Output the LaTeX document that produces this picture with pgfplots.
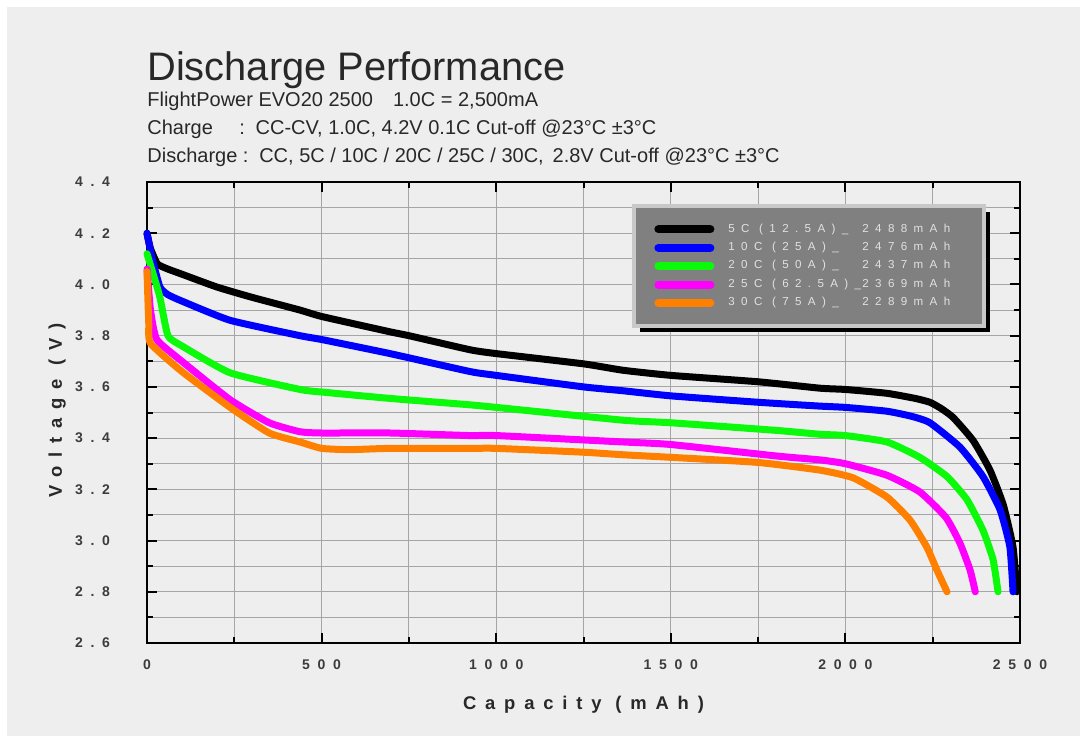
\documentclass[border=0pt]{standalone}
\usepackage{pgfplots}
\pgfplotsset{compat=1.18}
\usepackage{fontspec}
\setmainfont{Liberation Sans}
\newfontfamily\spaced[LetterSpace=55]{Liberation Sans}
\newfontfamily\spacedlab[LetterSpace=48]{Liberation Sans}
\usetikzlibrary{shadows}

% keep the legend box shadow off the legend line samples
\makeatletter
\tikzset{no preaction/.code={\let\tikz@preactions\pgfutil@empty}}
\makeatother

\definecolor{bg}{RGB}{238,238,238}
\definecolor{gridc}{RGB}{165,165,165}
\definecolor{txt}{RGB}{40,40,40}
\definecolor{tickc}{RGB}{60,60,60}
\definecolor{legbg}{RGB}{128,128,128}
\definecolor{legedge}{RGB}{200,200,200}
\definecolor{legtxt}{RGB}{225,225,225}
\definecolor{cblue}{RGB}{0,0,255}
\definecolor{cgreen}{RGB}{10,250,10}
\definecolor{cmag}{RGB}{255,0,255}
\definecolor{corange}{RGB}{255,128,0}

\newcommand{\tickfont}{\spaced\bfseries\fontsize{7}{8}\selectfont}
\newcommand{\labfont}{\spacedlab\bfseries\fontsize{9.2}{11}\selectfont}
\newcommand{\legfont}{\spaced\fontsize{5.8}{6.5}\selectfont}
\newcommand{\leg}[2]{\makebox[67pt][l]{#1}#2\hspace{14pt}}

\begin{document}
\begin{tikzpicture}
% page background (1px = 0.5pt, axis box origin at px 147,643)
\fill[white] (-73.5pt,-46.5pt) rectangle (466.5pt,321.5pt);
\fill[bg] (-70pt,-46.5pt) rectangle (466.5pt,318pt);

\node[anchor=base west, font=\fontsize{19.9}{23}\selectfont, text=txt, inner sep=0pt] at (0pt,281.5pt) {Discharge Performance};
\node[anchor=base west, font=\fontsize{10}{12}\selectfont, text=txt, inner sep=0pt] at (0pt,268.5pt) {FlightPower EVO20 2500\hspace{10pt}1.0C = 2,500mA};
\node[anchor=base west, font=\fontsize{10}{12}\selectfont, text=txt, inner sep=0pt] at (0pt,254.5pt) {\makebox[46pt][l]{Charge}: \,CC-CV, 1.0C, 4.2V 0.1C Cut-off @23°C ±3°C};
\node[anchor=base west, font=\fontsize{10}{12}\selectfont, text=txt, inner sep=0pt] at (0pt,240.5pt) {Discharge : \,CC, 5C / 10C / 20C / 25C / 30C, \,2.8V Cut-off @23°C ±3°C};

\begin{axis}[
  scale only axis,
  width=436.5pt, height=230.5pt,
  xmin=0, xmax=2500, ymin=2.6, ymax=4.4,
  clip=false,
  axis line style={black, line width=1.2pt},
  xtick={0,500,1000,1500,2000,2500},
  xticklabels={0,500,1000,1500,2000,2500},
  minor xtick={250,750,1250,1750,2250},
  ytick={2.6,2.8,3.0,3.2,3.4,3.6,3.8,4.0,4.2,4.4},
  yticklabels={2.6,2.8,3.0,3.2,3.4,3.6,3.8,4.0,4.2,4.4},
  minor ytick={2.7,2.9,3.1,3.3,3.5,3.7,3.9,4.1,4.3},
  grid=both,
  major grid style={gridc, line width=0.5pt},
  minor grid style={gridc, line width=0.5pt},
  tick align=inside,
  major tick length=5pt, minor tick length=3pt,
  tick style={black, line width=1pt},
  xticklabel style={font=\tickfont, text=tickc, yshift=-5pt},
  yticklabel style={font=\tickfont, text=tickc, xshift=-15pt},
  xlabel={Capacity (mAh)},
  ylabel={Voltage (V)},
  xlabel style={font=\labfont, text=txt, at={(axis description cs:0.5,0)}, anchor=center, yshift=-31pt},
  ylabel style={font=\labfont, text=txt, at={(axis description cs:-0.103,0.505)}, anchor=center},
  every axis plot/.append style={line width=3.5pt, line join=round, line cap=round, smooth, tension=0.3},
  legend style={at={(0.556,0.952)}, anchor=north west, fill=legbg, draw=legedge, line width=2pt,
    drop shadow={shadow xshift=2.8pt, shadow yshift=-2.8pt, fill=black, opacity=1},
    inner xsep=10pt, inner ysep=9pt, row sep=4pt, font=\legfont, text=legtxt,
    nodes={text height=4pt, text depth=1.2pt, inner ysep=0pt, inner xsep=7pt}},
  legend cell align=left,
  legend image code/.code={\draw[no preaction, #1, line width=4pt, line cap=round, sharp plot] (2pt,0pt) -- (28pt,0pt);},
]
\addplot[black] coordinates {
(0,4.20) (10,4.14) (30,4.08) (60,4.06) (100,4.04) (200,3.99) (300,3.95) (438,3.90)
(500,3.875) (696,3.815) (750,3.80) (925,3.745) (1000,3.73) (1250,3.69) (1363,3.665)
(1500,3.645) (1750,3.62) (1927,3.595) (2000,3.59) (2119,3.575) (2200,3.555) (2242,3.54)
(2275,3.515) (2309,3.48) (2366,3.39) (2414,3.275) (2452,3.14) (2480,2.975) (2491,2.80)};
\addlegendentry{\leg{5C (12.5A)\_}{2488mAh}}
\addplot[cblue] coordinates {
(0,4.20) (15,4.10) (37,3.99) (60,3.96) (100,3.935) (238,3.86) (438,3.80) (500,3.785)
(696,3.73) (925,3.66) (1000,3.645) (1250,3.60) (1363,3.585) (1500,3.565) (1750,3.54)
(1927,3.525) (2000,3.52) (2119,3.505) (2190,3.485) (2242,3.46) (2328,3.365) (2394,3.25)
(2443,3.12) (2471,2.975) (2480,2.80)};
\addlegendentry{\leg{10C (25A)\_}{2476mAh}}
\addplot[cgreen] coordinates {
(0,4.12) (20,4.03) (37,3.95) (60,3.80) (100,3.76) (238,3.655) (438,3.59) (500,3.58)
(696,3.555) (925,3.53) (1000,3.52) (1363,3.47) (1500,3.46) (1804,3.43) (1927,3.415)
(2000,3.41) (2119,3.385) (2213,3.325) (2291,3.25) (2348,3.16) (2394,3.04) (2423,2.925)
(2437,2.80)};
\addlegendentry{\leg{20C (50A)\_}{2437mAh}}
\addplot[cmag] coordinates {
(0,4.06) (10,3.90) (28,3.785) (100,3.70) (238,3.55) (350,3.46) (438,3.425) (500,3.42)
(696,3.42) (925,3.41) (1000,3.41) (1363,3.385) (1500,3.375) (1804,3.33) (1927,3.315)
(2000,3.30) (2119,3.255) (2213,3.19) (2288,3.09) (2328,2.99) (2357,2.885) (2372,2.80)};
\addlegendentry{\leg{25C (62.5A)\_}{2369mAh}}
\addplot[corange] coordinates {
(0,4.05) (5,3.85) (10,3.77) (100,3.66) (238,3.52) (350,3.42) (438,3.385) (500,3.36)
(581,3.355) (696,3.36) (925,3.36) (1000,3.36) (1250,3.345) (1363,3.335) (1500,3.325)
(1750,3.305) (1927,3.275) (2022,3.245) (2119,3.17) (2185,3.08) (2233,2.975) (2262,2.885)
(2291,2.80)};
\addlegendentry{\leg{30C (75A)\_}{2289mAh}}
\end{axis}
\end{tikzpicture}
\end{document}
